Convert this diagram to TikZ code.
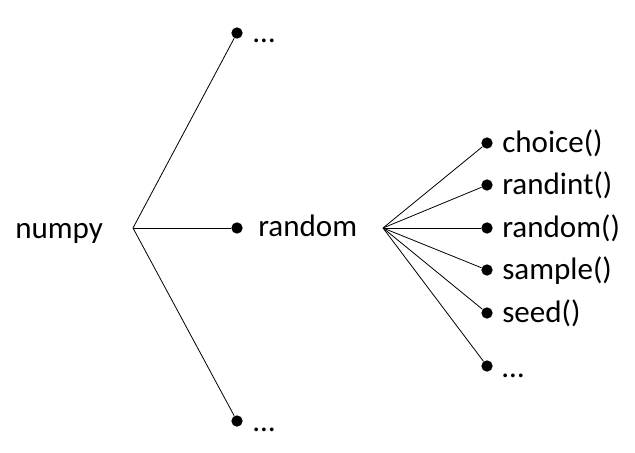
\documentclass[tikz,border=0pt]{standalone}
\usepackage{fontspec}
\setmainfont{Carlito}
\usetikzlibrary{calc,positioning}

\begin{document}
\begin{tikzpicture}[x=0.75pt,y=-0.75pt,
	every dot/.style={circle,fill=black,inner sep=0pt,minimum size=8.5pt},
	tree text/.style={anchor=base west,inner sep=0pt,font=\fontsize{23.3}{28}\selectfont},
	branch/.style={line width=0.6pt}]
	\useasboundingbox (0,0) rectangle (635,453);
	% first level
	\node [tree text] (numpy) at (15,238) {numpy};
	\coordinate (root) at (133,228);
	\foreach \y [count=\i] in {33,228,421}
		\node [every dot] (mod-\i) at (237,\y) {};
	\node [tree text] (mod-text-1) at ($(mod-1)+(16,10)$) {…};
	\node [tree text] (random) at ($(mod-2)+(21,8)$) {random};
	\node [tree text] (mod-text-3) at ($(mod-3)+(16,10)$) {…};
	\foreach \i in {1,2,3}
		\draw [branch] (root) -- (mod-\i);
	% second level
	\coordinate (hub) at (383,228);
	\foreach \l/\y/\d [count=\i] in {choice()/143/9,randint()/185/9,random()/228/9,
			sample()/270/9,seed()/313/9,…/366/11}
	{
		\node [every dot] (fn-\i) at (487,\y) {};
		\node [tree text] (fn-text-\i) at ($(fn-\i)+(15,\d)$) {\l};
		\draw [branch] (hub) -- (fn-\i);
	}
\end{tikzpicture}
\end{document}
